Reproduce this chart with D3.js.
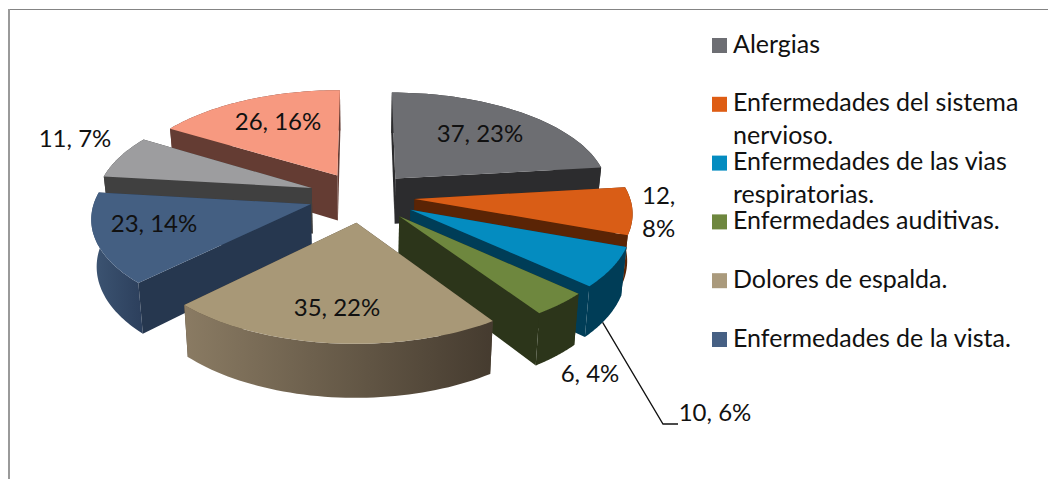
<!DOCTYPE html>
<html>
<head>
<meta charset="utf-8">
<script src="https://cdnjs.cloudflare.com/ajax/libs/d3/7.8.5/d3.min.js"></script>
<style>
html,body{margin:0;padding:0;background:#fff;overflow:hidden}
text{font-family:Lato,"Open Sans",sans-serif;fill:#111}
</style>
</head>
<body>
<svg id="c" width="1048" height="479"></svg>
<script>
// ---- data ----
const values = [37, 12, 10, 6, 35, 23, 11, 26];
const percents = [23, 8, 6, 4, 22, 14, 7, 16];
const legendLines = [
  ["Alergias"],
  ["Enfermedades del sistema", "nervioso."],
  ["Enfermedades de las vias", "respiratorias."],
  ["Enfermedades auditivas."],
  ["Dolores de espalda."],
  ["Enfermedades de la vista."]
];
// ---- styles ----
const topColors = ["#6d6e72", "#d95d16", "#048cc0", "#6e873e", "#a89877", "#445f82", "#9d9d9f", "#f79980"];
const wallColors = ["#2c2c2e", "#5a2405", "#003d57", "#2c351a", "#4a3f32", "#26374f", "#404040", "#643c33"];
const rimStops = [
  ["#2c2c2e", "#2c2c2e"], ["#5a2405", "#5a2405"], ["#003d57", "#003d57"], ["#2c351a", "#2c351a"],
  ["#8a7b63", "#453b2f"], ["#3d5573", "#2c3f5c"], ["#404040", "#404040"], ["#643c33", "#643c33"]
];
const legendColors = ["#6d6e73", "#de5d14", "#048cc0", "#6e873e", "#aa9a7c", "#466084"];
// paint order: back to front
const paintOrder = [7, 0, 6, 1, 5, 2, 3, 4];
// explosion of each slice, as a share of the radius
const explodes = [0.238, 0.245, 0.26, 0.26, 0.26, 0.25, 0.25, 0.24];
// label layout: [x, y] of the text centre/baseline
const labelPos = [[480,142],null,null,[590,382],[337,316],[154,232],[75,147],[278,130],[715,421]];
const splitLabelPos = [[642,204],[642,237]];

// ---- geometry ----
const W = 1048, H = 479;
const persp = 0.118, depth = 46, shrink = 0.98;
const sx = d3.scaleLinear().domain([0, 1]).range([362, 577]);
const sy = d3.scaleLinear().domain([0, 1]).range([196, 296]);
function proj(X, Y, low) {
  const w = 1 - persp * Y;
  const x = sx(X / w), y = sy(Y / w);
  if (!low) return [x, y];
  return [sx(0) + (x - sx(0)) * shrink, y + depth / w];
}
const line = d3.line();
const svg = d3.select("#c");
const defs = svg.append("defs");

// frame
svg.append("line").attr("x1", 8).attr("x2", W).attr("y1", 9.5).attr("y2", 9.5).attr("stroke", "#848484").attr("stroke-width", 1);
svg.append("line").attr("x1", 9).attr("x2", 9).attr("y1", 9).attr("y2", H).attr("stroke", "#9a9a9a").attr("stroke-width", 2);

const arcs = d3.pie().sort(null).startAngle(0).endAngle(2 * Math.PI)(values);

function sliceGeom(a, i) {
  const mid = (a.startAngle + a.endAngle) / 2;
  const ox = explodes[i] * Math.sin(mid), oy = -explodes[i] * Math.cos(mid);
  const n = 48;
  const rim = d3.range(n + 1).map(k => {
    const t = a.startAngle + (a.endAngle - a.startAngle) * k / n;
    return [ox + Math.sin(t), oy - Math.cos(t)];
  });
  return { o: [ox, oy], rim };
}

paintOrder.forEach(i => {
  const g = sliceGeom(arcs[i], i);
  const layer = svg.append("g");
  const up = g.rim.map(p => proj(p[0], p[1], false));
  const dn = g.rim.map(p => proj(p[0], p[1], true));
  const a0 = proj(g.o[0], g.o[1], false), a1 = proj(g.o[0], g.o[1], true);
  const last = up.length - 1;

  const grad = defs.append("linearGradient").attr("id", "rim" + i);
  grad.append("stop").attr("offset", 0).attr("stop-color", rimStops[i][0]);
  grad.append("stop").attr("offset", 1).attr("stop-color", rimStops[i][1]);

  const walls = [
    { pts: [a0, up[0], dn[0], a1], fill: wallColors[i] },
    { pts: [up[last], a0, a1, dn[last]], fill: wallColors[i] },
    { pts: up.concat(dn.slice().reverse()), fill: "url(#rim" + i + ")" }
  ];
  // back-facing walls first (convex solid): they have negative area
  walls.forEach(w => { w.area = d3.polygonArea(w.pts); });
  walls.sort((p, q) => p.area - q.area);
  walls.forEach(w => {
    layer.append("path").attr("d", line(w.pts) + "Z").attr("fill", w.fill);
  });
  layer.append("path").attr("d", line([a0].concat(up)) + "Z").attr("fill", topColors[i]);
});

// leader line for the 10, 6% label
const lead = sliceGeom(arcs[2], 2);
const leadStart = proj(lead.rim[30][0], lead.rim[30][1], true);
svg.append("path")
  .attr("d", line([leadStart, [663, 424], [678, 424]]))
  .attr("fill", "none").attr("stroke", "#111").attr("stroke-width", 1.3);

// data labels
const fs = 24;
const lab = (t, p, anchor) => svg.append("text").attr("x", p[0]).attr("y", p[1])
  .attr("text-anchor", anchor || "middle").attr("font-size", fs).text(t);
[0, 4, 5, 7, 6, 3].forEach(i => lab(values[i] + ", " + percents[i] + "%", labelPos[i]));
lab(values[1] + ",", splitLabelPos[0], "start");
lab(percents[1] + "%", splitLabelPos[1], "start");
lab(values[2] + ", " + percents[2] + "%", labelPos[8]);

// legend
const legendY = d3.scalePoint().domain(d3.range(legendLines.length)).range([45.5, 339.5]);
legendLines.forEach((lines, i) => {
  const y = legendY(i);
  svg.append("rect").attr("x", 712).attr("y", y - 7.5).attr("width", 15).attr("height", 15).attr("fill", legendColors[i]);
  lines.forEach((t, j) => {
    svg.append("text").attr("x", 733).attr("y", y + 7 + j * 33).attr("font-size", 25).text(t);
  });
});
</script>
</body>
</html>
